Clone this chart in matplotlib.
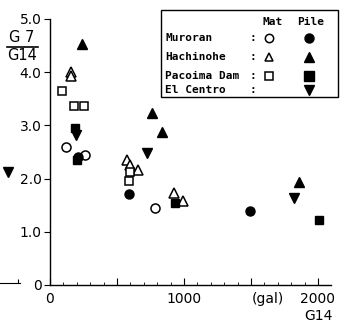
import matplotlib
matplotlib.use("Agg")
import matplotlib.pyplot as plt
from matplotlib.lines import Line2D
from matplotlib.patches import Rectangle

# ── Data (G14 in gal, ratio G7/G14) ───────────────────────────────────────────
muroran_mat_x = [122, 262, 784]
muroran_mat_y = [2.60, 2.44, 1.44]
muroran_pile_x = [212, 592, 1491]
muroran_pile_y = [2.41, 1.71, 1.39]

hachinohe_mat_x = [155, 155, 571, 597, 654, 929, 991]
hachinohe_mat_y = [4.01, 3.92, 2.35, 2.26, 2.16, 1.73, 1.57]
hachinohe_pile_x = [237, 759, 834, 1860]
hachinohe_pile_y = [4.53, 3.23, 2.88, 1.94]

pacoima_mat_x = [88, 180, 255, 597, 587]
pacoima_mat_y = [3.65, 3.36, 3.36, 2.13, 1.96]
pacoima_pile_x = [190, 205, 934, 2010]
pacoima_pile_y = [2.95, 2.35, 1.55, 1.22]

elcentro_pile_x = [197, 721, 1820]
elcentro_pile_y = [2.82, 2.48, 1.63]

legend_names = ["Muroran", "Hachinohe", "Pacoima Dam", "El Centro"]

# stray mark from the neighbouring panel
prev_x = [0.4]
prev_y = [2.09]

W, H = 342, 324
fig = plt.figure(figsize=(W / 100, H / 100), dpi=100)
plt.rcParams["font.family"] = "DejaVu Sans"

ax = fig.add_axes([50 / W, 39 / H, 281.4 / W, 266 / H])
ax.set_xlim(0, 2100)
ax.set_ylim(0, 5.0)
for s in ("top", "right"):
    ax.spines[s].set_visible(False)
ax.spines["left"].set_linewidth(1.0)
ax.spines["bottom"].set_linewidth(1.0)

kw_open = dict(ls="none", mfc="white", mec="black", mew=1.1, clip_on=False)
kw_fill = dict(ls="none", mfc="black", mec="black", clip_on=False)

ax.plot(muroran_mat_x, muroran_mat_y, "o", ms=6.5, **kw_open)
ax.plot(hachinohe_mat_x, hachinohe_mat_y, "^", ms=7, **kw_open)
ax.plot(pacoima_mat_x, pacoima_mat_y, "s", ms=5.5, **kw_open)
ax.plot(muroran_pile_x, muroran_pile_y, "o", ms=6.5, **kw_fill)
ax.plot(hachinohe_pile_x, hachinohe_pile_y, "^", ms=7.5, **kw_fill)
ax.plot(pacoima_pile_x, pacoima_pile_y, "s", ms=5.5, **kw_fill)
ax.plot(elcentro_pile_x, elcentro_pile_y, "v", ms=7.5, **kw_fill)

ax.set_xticks([0, 500, 1000, 1500, 2000])
ax.set_xticklabels(["0", "", "1000", "", "2000"])
ax.set_xticks(range(0, 2100, 100), minor=True)
ax.set_yticks([0, 1, 2, 3, 4, 5])
ax.set_yticklabels(["0", "1.0", "2.0", "3.0", "4.0", "5.0"])
ax.tick_params(axis="x", which="major", direction="in", length=5, pad=5, labelsize=10)
ax.tick_params(axis="x", which="minor", direction="in", length=2.5)
ax.tick_params(axis="y", which="major", direction="out", length=4, pad=2, labelsize=10)

fig.text(268 / W, 1 - 299 / H, "(gal)", ha="center", va="center", fontsize=10)
fig.text(318 / W, 1 - 316 / H, "G14", ha="center", va="center", fontsize=10)

# y label as fraction G7 / G14
fig.text(22 / W, 1 - 38 / H, "G 7", ha="center", va="center", fontsize=10.5)
fig.text(22 / W, 1 - 56 / H, "G14", ha="center", va="center", fontsize=10.5)
fig.add_artist(Line2D([7 / W, 38 / W], [1 - 47 / H, 1 - 47 / H], color="black", lw=1.2))

# legend box
fig.add_artist(Rectangle((161 / W, 1 - 97 / H), 177 / W, 87 / H, transform=fig.transFigure,
                         fill=False, ec="black", lw=1.0))
mono = dict(family="DejaVu Sans Mono", fontsize=8, fontweight="bold", va="center")
fig.text(273 / W, 1 - 22 / H, "Mat", ha="center", **mono)
fig.text(311 / W, 1 - 22 / H, "Pile", ha="center", **mono)
row_y = [38, 57, 76, 90]
mat_marks = ["o", "^", "s", None]
pile_marks = ["o", "^", "s", "v"]
for name, py, mm, pm in zip(legend_names, row_y, mat_marks, pile_marks):
    yy = 1 - py / H
    fig.text(165 / W, yy, name, ha="left", **mono)
    fig.text(253 / W, yy, ":", ha="center", **mono)
    if mm:
        fig.add_artist(Line2D([269 / W], [yy], marker=mm, ms=6, mfc="white", mec="black",
                              mew=1.1, ls="none", transform=fig.transFigure))
    fig.add_artist(Line2D([309 / W], [yy], marker=pm, ms=6.5, mfc="black", mec="black",
                          ls="none", transform=fig.transFigure))

# edge of the neighbouring panel at far left
ax_prev = fig.add_axes([0, 41 / H, 20 / W, 266 / H])
ax_prev.set_xlim(0, 1)
ax_prev.set_ylim(0, 5.0)
for s in ("top", "right", "left"):
    ax_prev.spines[s].set_visible(False)
ax_prev.set_yticks([])
ax_prev.set_xticks([0.9])
ax_prev.set_xticklabels([])
ax_prev.tick_params(axis="x", direction="in", length=3)
ax_prev.patch.set_alpha(0)
ax_prev.plot(prev_x, prev_y, "v", ms=7, mfc="black", mec="black", ls="none", clip_on=False)

fig.savefig("out.png", dpi=100)
